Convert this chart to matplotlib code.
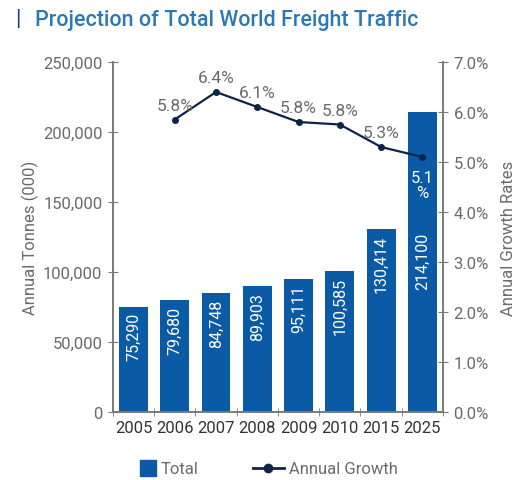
import numpy as np
import matplotlib.pyplot as plt

plt.rcParams['font.family'] = ['Roboto', 'DejaVu Sans']

years = ['2005', '2006', '2007', '2008', '2009', '2010', '2015', '2025']
totals = [75290, 79680, 84748, 89903, 95111, 100585, 130414, 214100]
growth_years = ['2006', '2007', '2008', '2009', '2010', '2015', '2025']
growth = [5.85, 6.4, 6.1, 5.8, 5.75, 5.3, 5.1]
growth_labels = ['5.8%', '6.4%', '6.1%', '5.8%', '5.8%', '5.3%', '5.1\n%']

bar_color = '#0b5aa6'
line_color = '#0f2347'
gray = '#6a6a6a'
spine_gray = '#7a7a7a'
fs = 12

fig = plt.figure(figsize=(5.2, 4.81), dpi=100)
ax1 = fig.add_axes([0.217, 0.1414, 0.635, 0.7276])

x = np.arange(len(years))
ax1.bar(x, totals, width=0.7, color=bar_color, zorder=2)
ax1.set_xlim(-0.5, len(years) - 0.5)
ax1.set_ylim(0, 250000)
ax1.set_yticks(np.arange(0, 250001, 50000))
ax1.set_yticklabels([f'{v:,}' for v in range(0, 250001, 50000)])
ax1.set_xticks(x)
ax1.set_xticklabels(years)
ax1.set_xticks(np.arange(-0.5, len(years)), minor=True)
ax1.tick_params(axis='x', which='major', length=0, pad=6, labelsize=fs, labelcolor='#333333')
ax1.tick_params(axis='x', which='minor', length=6, direction='inout', color=spine_gray)
ax1.tick_params(axis='y', length=7, direction='inout', color=spine_gray, labelsize=fs, labelcolor=gray, pad=4)
ax1.set_ylabel('Annual Tonnes (000)', color=gray, fontsize=fs, labelpad=3)
ax1.spines['top'].set_visible(False)
for s in ['left', 'right', 'bottom']:
    ax1.spines[s].set_color(spine_gray)
    ax1.spines[s].set_linewidth(1.2)

# bar value labels
for i, v in enumerate(totals):
    off = -86 if years[i] == '2025' else -4
    ax1.annotate(f'{v:,}', (i, v), xytext=(0, off), textcoords='offset points',
                 rotation=90, ha='center', va='top', color='white', fontsize=11.5)

ax2 = ax1.twinx()
gx = [years.index(y) for y in growth_years]
ax2.plot(gx, growth, color=line_color, lw=1.6, marker='o', ms=4, zorder=3)
ax2.set_ylim(0, 7)
ax2.set_yticks(np.arange(0, 7.01, 1))
ax2.set_yticklabels([f'{v:.1f}%' for v in np.arange(0, 7.01, 1)])
ax2.tick_params(axis='y', length=7, direction='inout', color=spine_gray, labelsize=fs, labelcolor=gray, pad=4)
ax2.set_ylabel('Annual Growth Rates', color=gray, fontsize=fs, labelpad=9)
ax2.spines['top'].set_visible(False)
for s in ['left', 'right', 'bottom']:
    ax2.spines[s].set_color(spine_gray)
    ax2.spines[s].set_linewidth(1.2)

for xi, g, lab in zip(gx, growth, growth_labels):
    if lab.startswith('5.1'):
        ax2.annotate(lab, (xi, g), xytext=(0, -9), textcoords='offset points',
                     ha='center', va='top', color='white', fontsize=12, linespacing=1.05)
    else:
        ax2.annotate(lab, (xi, g), xytext=(0, 5), textcoords='offset points',
                     ha='center', va='bottom', color=gray, fontsize=12.5)

# legend, two parts so the spacing follows the original
h1 = plt.Line2D([], [], color=bar_color, marker='s', ls='none', ms=11)
h2 = plt.Line2D([], [], color=line_color, marker='o', lw=2, ms=6)
leg1 = fig.legend([h1], ['Total'], loc='center left', bbox_to_anchor=(0.256, 0.023),
                  frameon=False, fontsize=fs, labelcolor=gray, handlelength=1.0,
                  handletextpad=0.25, borderaxespad=0)
leg2 = fig.legend([h2], ['Annual Growth'], loc='center left', bbox_to_anchor=(0.473, 0.023),
                  frameon=False, fontsize=fs, labelcolor=gray, handlelength=1.9,
                  handletextpad=0.3, borderaxespad=0)

fig.text(0.03, 0.96, '|', color='#1a3a78', fontsize=16, va='center')
fig.text(0.068, 0.958, 'Projection of Total World Freight Traffic', color='#2a78b6',
         fontsize=15.5, fontweight='medium', va='center')

plt.savefig('out.png', dpi=100)
